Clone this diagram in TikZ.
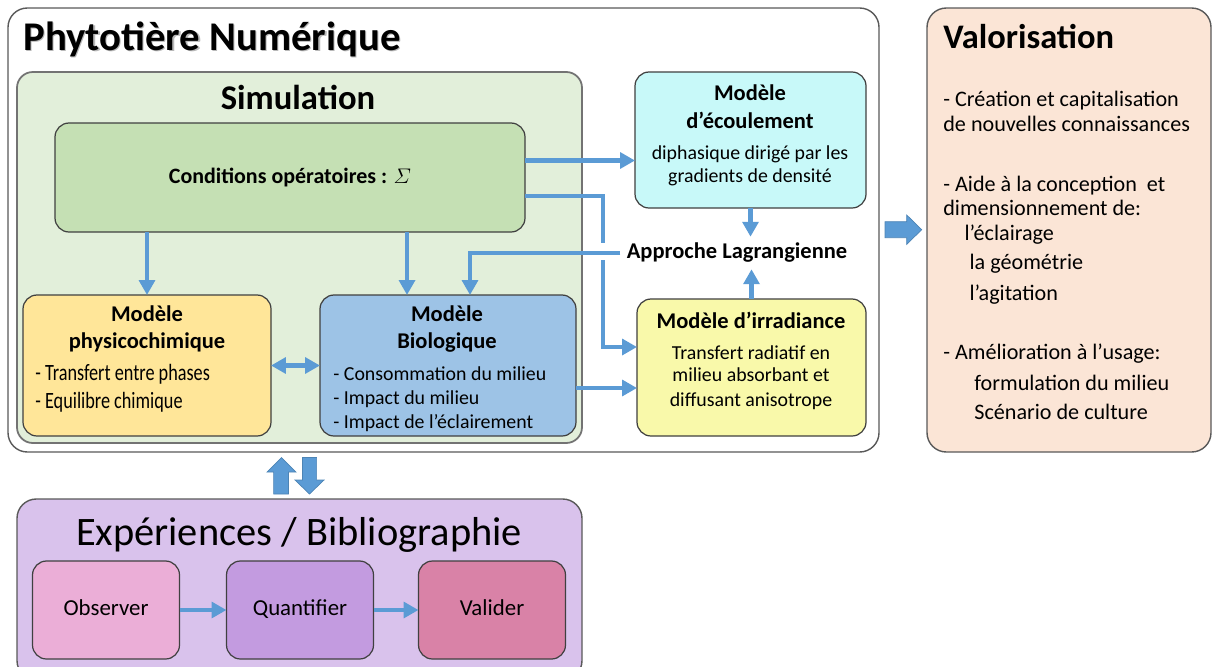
\documentclass[tikz,border=0pt]{standalone}
\usepackage{fontspec}
\setmainfont{Carlito}
\newfontfamily\narrowfont[FakeStretch=0.78]{Carlito}
\usetikzlibrary{arrows.meta}
\definecolor{arrblue}{HTML}{5B9BD5}
\definecolor{simgreen}{HTML}{E2EFDA}
\definecolor{condgreen}{HTML}{C5E0B4}
\definecolor{physyellow}{HTML}{FFE699}
\definecolor{bioblue}{HTML}{9DC3E6}
\definecolor{ecoucyan}{HTML}{C8F9F9}
\definecolor{irryellow}{HTML}{F9F9AA}
\definecolor{valopeach}{HTML}{FBE5D6}
\definecolor{explav}{HTML}{D9C2EC}
\definecolor{obspink}{HTML}{EBAED7}
\definecolor{quantpurple}{HTML}{C39BE0}
\definecolor{valrose}{HTML}{D982A7}
\newcommand{\pxu}{0.02cm}

\begin{document}
\begin{tikzpicture}[x=0.02cm, y=-0.02cm,
  bigbox/.style={draw=black!65, line width=0.8pt, rounded corners=11pt, inner sep=0pt, outer sep=0pt},
  box/.style={draw=black!75, line width=0.7pt, rounded corners=8pt, inner sep=0pt, outer sep=0pt},
  expbox/.style={box, minimum width=147*\pxu, minimum height=98*\pxu, text height=0.62em, text depth=0pt, font=\fontsize{13}{15}\selectfont},
  txt/.style={inner sep=0pt, font=\fontsize{11.3}{13}\selectfont},
  ttl/.style={inner sep=0pt, font=\fontsize{12.8}{15}\selectfont\bfseries},
  narrow/.style={inner sep=0pt, font=\fontsize{13.3}{15}\narrowfont},
  valtxt/.style={inner sep=0pt, anchor=base west, font=\fontsize{12.6}{15}\selectfont},
  arr/.style={draw=arrblue, line width=2.8pt, -{Triangle[width=9pt,length=8.5pt]}},
  dblarr/.style={draw=arrblue, line width=2.8pt, {Triangle[width=9pt,length=8.5pt]}-{Triangle[width=9pt,length=8.5pt]}},
  blockarr/.style={fill=arrblue, draw=arrblue!85!black, line width=0.4pt}]
  \useasboundingbox (0,0) rectangle (1212,666);

  % Phytotiere Numerique and Valorisation
  \node[bigbox, fill=white, minimum width=871*\pxu, minimum height=444*\pxu] (phyto) at (443.5,230) {};
  \node[bigbox, fill=valopeach, minimum width=284*\pxu, minimum height=444*\pxu] (valo) at (1069,230) {};
  \node[anchor=base west, inner sep=0pt, text=black!28, font=\fontsize{23.2}{27}\selectfont\bfseries] (physhadow) at (24.5,51.5) {Phytotière Numérique};
  \node[anchor=base west, inner sep=0pt, font=\fontsize{23.2}{27}\selectfont\bfseries] (phytitle) at (23,50) {Phytotière Numérique};

  % Simulation
  \node[bigbox, draw=black!55, line width=1pt, rounded corners=9pt, fill=simgreen, minimum width=565*\pxu, minimum height=371*\pxu] (sim) at (299.5,257.5) {};
  \node[anchor=base, inner sep=0pt, font=\fontsize{19.7}{23}\selectfont\bfseries] (simtitle) at (298,109.3) {Simulation};
  \node[box, fill=condgreen, minimum width=470*\pxu, minimum height=109*\pxu, font=\fontsize{12.5}{15}\selectfont\bfseries] (cond) at (290,177.5) {Conditions opératoires : $\mathnormal{\Sigma}$};

  % Modele physicochimique
  \node[box, fill=physyellow, minimum width=248*\pxu, minimum height=141*\pxu] (phys) at (147,365.5) {};
  \node[ttl, anchor=base] (physt1) at (147,321.7) {Modèle};
  \node[ttl, anchor=base] (physt2) at (147,348.3) {physicochimique};
  \node[narrow, anchor=base west] (phys1) at (35,380) {- Transfert entre phases};
  \node[narrow, anchor=base west] (phys2) at (35,408.3) {- Equilibre chimique};

  % Modele biologique
  \node[box, fill=bioblue, minimum width=256*\pxu, minimum height=141*\pxu] (bio) at (448,365.5) {};
  \node[ttl, anchor=base] (biot1) at (447,321.7) {Modèle};
  \node[ttl, anchor=base] (biot2) at (447,348.3) {Biologique};
  \node[txt, anchor=base west] (bio1) at (333,380) {- Consommation du milieu};
  \node[txt, anchor=base west] (bio2) at (333,404) {- Impact du milieu};
  \node[txt, anchor=base west] (bio3) at (333,428.3) {- Impact de l’éclairement};

  % Modele d'ecoulement
  \node[box, fill=ecoucyan, minimum width=231*\pxu, minimum height=136*\pxu] (ecou) at (750.5,140) {};
  \node[ttl, anchor=base] (ecout1) at (750,100.7) {Modèle};
  \node[ttl, anchor=base] (ecout2) at (750,128.3) {d’écoulement};
  \node[txt, anchor=base] (ecou1) at (750,159) {diphasique dirigé par les};
  \node[txt, anchor=base] (ecou2) at (750,182.7) {gradients de densité};

  % Approche Lagrangienne
  \node[ttl, inner sep=3.5pt] (appr) at (737,253) {Approche Lagrangienne};

  % Modele d'irradiance
  \node[box, fill=irryellow, minimum width=229*\pxu, minimum height=137*\pxu] (irr) at (751.5,367.5) {};
  \node[ttl, anchor=base] (irrt) at (751,328.3) {Modèle d’irradiance};
  \node[txt, anchor=base] (irr1) at (751,359) {Transfert radiatif en};
  \node[txt, anchor=base] (irr2) at (751,381.7) {milieu absorbant et};
  \node[txt, anchor=base] (irr3) at (751,406.7) {diffusant anisotrope};

  % Valorisation texts
  \node[anchor=base west, inner sep=0pt, font=\fontsize{19.6}{23}\selectfont\bfseries] (valotitle) at (943,48.3) {Valorisation};
  \node[valtxt] (valo1) at (943,106.7) {- Création et capitalisation};
  \node[valtxt] (valo2) at (943,131) {de nouvelles connaissances};
  \node[valtxt] (valo3) at (943,191) {- Aide à la conception~ et};
  \node[valtxt] (valo4) at (943,215) {dimensionnement de:};
  \node[valtxt] (valo5) at (964.3,240) {l’éclairage};
  \node[valtxt] (valo6) at (969.3,269.3) {la géométrie};
  \node[valtxt] (valo7) at (969.3,300) {l’agitation};
  \node[valtxt] (valo8) at (943,359.3) {- Amélioration à l’usage:};
  \node[valtxt] (valo9) at (974,390) {formulation du milieu};
  \node[valtxt] (valo10) at (974,419.3) {Scénario de culture};

  % Experiences / Bibliographie
  \node[bigbox, fill=explav, minimum width=565*\pxu, minimum height=181*\pxu] (exp) at (299.5,589.5) {};
  \node[anchor=base, inner sep=0pt, font=\fontsize{23}{27}\selectfont] (exptitle) at (299,545) {Expériences / Bibliographie};
  \node[expbox, fill=obspink] (obs) at (106,610) {Observer};
  \node[expbox, fill=quantpurple] (quant) at (300,610) {Quantifier};
  \node[expbox, fill=valrose] (val) at (492,610) {Valider};

  % Connectors
  \coordinate (condhi) at ([yshift=0.34cm]cond.east);
  \coordinate (condlo) at ([yshift=-0.37cm]cond.east);
  \coordinate (irrin) at ([yshift=0.41cm]irr.west);
  \coordinate (bioout) at ([yshift=-0.45cm]bio.east);
  \coordinate (bioinl) at ([xshift=-0.82cm]bio.north);
  \coordinate (bioinr) at ([xshift=0.44cm]bio.north);
  \coordinate (split) at (603,0);
  \draw[arr] (condhi) -- (condhi -| ecou.west);
  \draw[arr] (condlo) -| (split |- irrin) -- (irrin);
  \fill[white] (597,243) rectangle (609,260);
  \draw[arr] (appr.west) -| (bioinr);
  \draw[arr] (cond.south -| phys.north) -- (phys.north);
  \draw[arr] (cond.south -| bioinl) -- (bioinl);
  \draw[dblarr] (phys.east) -- (bio.west);
  \draw[arr] (bioout) -- (bioout -| irr.west);
  \draw[arr] (ecou.south) -- (ecou.south |- appr.north);
  \draw[arr] (irr.north) -- (irr.north |- appr.south);
  \draw[arr] (obs.east) -- (quant.west);
  \draw[arr] (quant.east) -- (val.west);

  % Block arrows
  \draw[blockarr] (885,221.7) -- (906.7,221.7) -- (906.7,215) -- (921.7,229.7) -- (906.7,244.3) -- (906.7,237.7) -- (885,237.7) -- cycle;
  \draw[blockarr] (273.6,494) -- (273.6,472) -- (267,472) -- (281.5,457.5) -- (296,472) -- (288.4,472) -- (288.4,494) -- cycle;
  \draw[blockarr] (302.4,457.5) -- (316.6,457.5) -- (316.6,480) -- (324,480) -- (309.5,494) -- (295,480) -- (302.4,480) -- cycle;
\end{tikzpicture}
\end{document}
